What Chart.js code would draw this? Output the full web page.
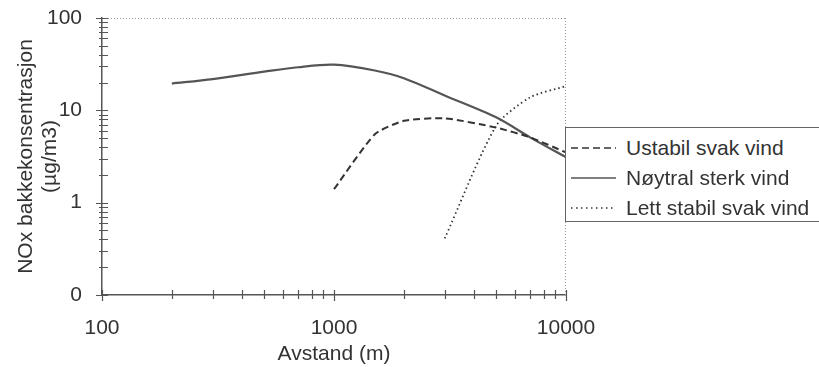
<!DOCTYPE html>
<html>
<head>
<meta charset="utf-8">
<script src="https://cdn.jsdelivr.net/npm/chart.js@4/dist/chart.umd.min.js"></script>
<style>
  body { margin: 0; background: #fff; }
  #wrap { position: relative; width: 819px; height: 367px; overflow: hidden; }
  #legend {
    position: absolute; left: 565px; top: 127px; width: 300px; height: 93px;
    border: 1.5px solid #666; background: #fff;
    font-family: "Liberation Sans", Arial, sans-serif; font-size: 21px; color: #333;
  }
  .row { position: absolute; left: 0; height: 30px; display: flex; align-items: center; white-space: nowrap; }
  .row svg { margin-left: 5px; margin-right: 10px; }
</style>
</head>
<body>
<div id="wrap">
  <canvas id="noxChart" width="819" height="367"></canvas>
  <div id="legend"></div>
</div>
<script>
// series
var ustabilX = [1000, 1500, 2000, 3000, 5000, 7000, 10000];
var ustabilY = [1.4, 5.5, 7.7, 8.2, 6.5, 5.1, 3.5];

var noytralX = [200, 300, 500, 700, 1000, 1500, 2000, 3000, 5000, 7000, 10000];
var noytralY = [19.5, 21.8, 26.2, 29.3, 31.2, 27, 22.3, 14.5, 8.4, 5.1, 3.1];

var lettX = [3000, 5000, 7000, 10000];
var lettY = [0.41, 6.8, 13.8, 18.3];

// axes
var xTickValues = [100, 1000, 10000];
var xTickLabels = ["100", "1000", "10000"];
var yTickValues = [0.1, 1, 10, 100];
var yTickLabels = ["0", "1", "10", "100"];

var seriesNames = ["Ustabil svak vind", "Nøytral sterk vind", "Lett stabil svak vind"];

function toPoints(xs, ys) {
  return xs.map(function (x, i) { return { x: x, y: ys[i] }; });
}

var FONT = "'Liberation Sans', Arial, sans-serif";

// minor/major tick marks crossing the axes + dotted top/right frame
var axisDecor = {
  id: "axisDecor",
  beforeDatasetsDraw: function (chart) {
    var ctx = chart.ctx;
    var a = chart.chartArea;
    ctx.save();
    ctx.strokeStyle = "#999";
    ctx.lineWidth = 1;
    ctx.setLineDash([1, 2]);
    ctx.beginPath();
    ctx.moveTo(a.left, a.top + 0.5);
    ctx.lineTo(a.right, a.top + 0.5);
    ctx.moveTo(a.right - 0.5, a.top);
    ctx.lineTo(a.right - 0.5, a.bottom);
    ctx.stroke();
    ctx.restore();
  },
  afterDraw: function (chart) {
    var ctx = chart.ctx;
    var a = chart.chartArea;
    var xs = chart.scales.x, ys = chart.scales.y;
    ctx.save();
    ctx.strokeStyle = "#555";
    ctx.lineWidth = 1.2;
    ctx.beginPath();
    function decades(min, max, fn) {
      for (var d = min; d <= max; d *= 10) {
        for (var k = 1; k <= 9; k++) {
          var v = d * k;
          if (v > max + 1e-9) break;
          fn(v, k === 1);
        }
      }
    }
    decades(xs.min, xs.max, function (v, major) {
      var px = Math.round(xs.getPixelForValue(v)) + 0.5;
      ctx.moveTo(px, a.bottom + (major ? 6 : 4));
      ctx.lineTo(px, a.bottom - 5);
    });
    decades(ys.min, ys.max, function (v, major) {
      var py = Math.round(ys.getPixelForValue(v)) + 0.5;
      ctx.moveTo(a.left - (major ? 6 : 3), py);
      ctx.lineTo(a.left + 6, py);
    });
    ctx.stroke();
    ctx.restore();
  }
};

var datasets = [
  { label: seriesNames[0], data: toPoints(ustabilX, ustabilY), borderColor: "#333", borderWidth: 2, borderDash: [7, 4], tension: 0.2, dash: "7,4" },
  { label: seriesNames[1], data: toPoints(noytralX, noytralY), borderColor: "#555", borderWidth: 2.2, borderDash: [], dash: "" },
  { label: seriesNames[2], data: toPoints(lettX, lettY), borderColor: "#333", borderWidth: 1.8, borderDash: [1.5, 3], tension: 0.25, dash: "1.5,3.5" }
];

var chart = new Chart(document.getElementById("noxChart").getContext("2d"), {
  type: "line",
  data: { datasets: datasets },
  options: {
    responsive: false,
    animation: false,
    layout: { padding: { top: 18, right: 253, left: 0, bottom: 0 } },
    elements: {
      point: { radius: 0 },
      line: { tension: 0.3, fill: false }
    },
    plugins: { legend: { display: false }, tooltip: { enabled: false } },
    scales: {
      x: {
        type: "logarithmic",
        min: 100,
        max: 10000,
        afterFit: function (s) { s.height = 72; },
        afterBuildTicks: function (s) {
          s.ticks = xTickValues.map(function (v) { return { value: v }; });
        },
        grid: { display: false },
        border: { display: true, color: "#555", width: 1.5 },
        ticks: {
          padding: 13,
          maxRotation: 0,
          autoSkip: false,
          color: "#333",
          font: { family: FONT, size: 21 },
          callback: function (v) {
            var i = xTickValues.indexOf(v);
            return i >= 0 ? xTickLabels[i] : "";
          }
        },
        title: {
          display: true,
          text: "Avstand (m)",
          color: "#333",
          font: { family: FONT, size: 21 },
          padding: { top: 0, bottom: 0 }
        }
      },
      y: {
        type: "logarithmic",
        min: 0.1,
        max: 100,
        afterFit: function (s) { s.width = 102; s.paddingTop = 0; s.paddingBottom = 0; },
        afterBuildTicks: function (s) {
          s.ticks = yTickValues.map(function (v) { return { value: v }; });
        },
        grid: { display: false },
        border: { display: true, color: "#555", width: 1.5 },
        ticks: {
          padding: 12,
          autoSkip: false,
          color: "#333",
          font: { family: FONT, size: 21 },
          callback: function (v) {
            var i = yTickValues.indexOf(v);
            return i >= 0 ? yTickLabels[i] : "";
          }
        },
        title: {
          display: true,
          text: ["NOx bakkekonsentrasjon", "(µg/m3)"],
          color: "#333",
          font: { family: FONT, size: 21, lineHeight: 1.15 },
          padding: { top: 14, bottom: 0 }
        }
      }
    }
  },
  plugins: [axisDecor]
});

// legend box built from the datasets
var legend = document.getElementById("legend");
chart.data.datasets.forEach(function (ds, i) {
  var row = document.createElement("div");
  row.className = "row";
  row.style.top = (5 + i * 30) + "px";
  row.innerHTML =
    '<svg width="45" height="10"><line x1="0" y1="5" x2="45" y2="5" stroke="' + ds.borderColor +
    '" stroke-width="1.6"' + (ds.dash ? ' stroke-dasharray="' + ds.dash + '"' : "") + "/></svg>" +
    "<span>" + ds.label + "</span>";
  legend.appendChild(row);
});
</script>
</body>
</html>
